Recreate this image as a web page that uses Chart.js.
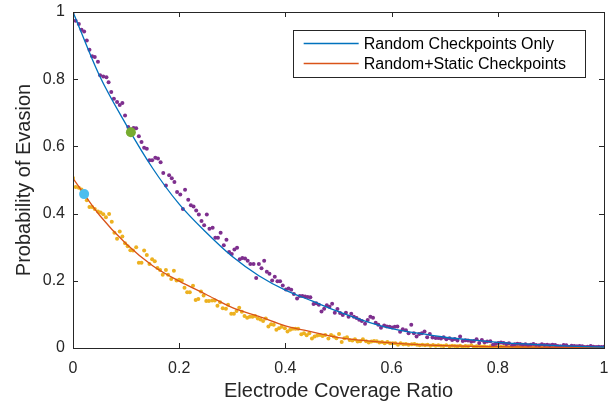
<!DOCTYPE html>
<html>
<head>
<meta charset="utf-8">
<script src="https://cdn.jsdelivr.net/npm/chart.js@4.4.1/dist/chart.umd.min.js"></script>
<style>
  html, body { margin: 0; padding: 0; background: #fff; }
</style>
</head>
<body>
<canvas id="chart" width="613" height="405"></canvas>
<script>
// tick positions
const xTicks = [0, 0.2, 0.4, 0.6, 0.8, 1];
const yTicks = [0, 0.2, 0.4, 0.6, 0.8, 1];

const seriesNames = ["Random Checkpoints Only", "Random+Static Checkpoints"];

// fitted curves, every 0.05
const fitX = [0, 0.05, 0.1, 0.15, 0.2, 0.25, 0.3, 0.35, 0.4, 0.45, 0.5,
  0.55, 0.6, 0.65, 0.7, 0.75, 0.8, 0.85, 0.9, 0.95, 1];
const randomFit = [1.000, 0.810, 0.665, 0.535, 0.428, 0.345, 0.272, 0.215, 0.172, 0.140, 0.108,
  0.080, 0.058, 0.044, 0.032, 0.024, 0.017, 0.012, 0.008, 0.005, 0.003];
const staticFit = [0.505, 0.395, 0.310, 0.245, 0.199, 0.160, 0.120, 0.094, 0.066, 0.048, 0.031,
  0.022, 0.015, 0.010, 0.007, 0.005, 0.004, 0.003, 0.002, 0.0015, 0.001];

// simulated points (x, y)
const randomPts = [
  [0,1.000],[0.005,0.974],[0.011,0.964],[0.016,0.947],[0.021,0.942],[0.026,0.915],[0.031,0.888],
  [0.036,0.868],[0.041,0.866],[0.047,0.852],[0.051,0.812],[0.057,0.808],[0.063,0.806],[0.067,0.791],
  [0.072,0.762],[0.077,0.742],[0.083,0.732],[0.088,0.723],[0.093,0.729],[0.098,0.692],[0.104,0.658],
  [0.109,0.650],[0.114,0.655],[0.119,0.654],[0.124,0.630],[0.129,0.613],[0.134,0.596],[0.139,0.593],
  [0.144,0.559],[0.149,0.559],[0.155,0.566],[0.160,0.564],[0.165,0.553],[0.170,0.521],[0.175,0.484],
  [0.181,0.514],[0.186,0.505],[0.191,0.494],[0.196,0.464],[0.202,0.457],[0.207,0.414],[0.211,0.471],
  [0.217,0.441],[0.222,0.425],[0.227,0.421],[0.232,0.409],[0.237,0.397],[0.242,0.378],[0.247,0.365],
  [0.252,0.397],[0.257,0.355],[0.263,0.358],[0.268,0.328],[0.273,0.328],[0.278,0.343],[0.284,0.306],
  [0.289,0.322],[0.294,0.286],[0.299,0.280],[0.304,0.293],[0.309,0.298],[0.314,0.264],[0.319,0.268],
  [0.324,0.266],[0.329,0.260],[0.334,0.250],[0.340,0.250],[0.345,0.208],[0.350,0.250],[0.355,0.237],
  [0.360,0.260],[0.365,0.227],[0.370,0.221],[0.375,0.201],[0.380,0.212],[0.385,0.199],[0.390,0.199],
  [0.395,0.186],[0.401,0.174],[0.406,0.177],[0.411,0.173],[0.416,0.161],[0.422,0.147],[0.427,0.155],
  [0.432,0.155],[0.437,0.153],[0.442,0.152],[0.447,0.151],[0.453,0.131],[0.458,0.133],[0.463,0.129],
  [0.468,0.109],[0.473,0.117],[0.478,0.127],[0.483,0.123],[0.488,0.132],[0.493,0.105],[0.498,0.116],
  [0.503,0.104],[0.508,0.098],[0.514,0.105],[0.519,0.093],[0.524,0.102],[0.529,0.093],[0.534,0.089],
  [0.539,0.084],[0.544,0.080],[0.550,0.072],[0.555,0.083],[0.560,0.093],[0.565,0.090],[0.570,0.075],
  [0.575,0.069],[0.580,0.060],[0.586,0.067],[0.591,0.064],[0.596,0.063],[0.601,0.061],[0.606,0.063],
  [0.611,0.064],[0.616,0.048],[0.621,0.056],[0.627,0.053],[0.632,0.044],[0.637,0.069],[0.642,0.044],
  [0.647,0.034],[0.652,0.042],[0.657,0.044],[0.662,0.049],[0.667,0.032],[0.672,0.042],[0.677,0.031],
  [0.683,0.030],[0.688,0.030],[0.693,0.028],[0.698,0.032],[0.703,0.026],[0.709,0.029],[0.714,0.024],
  [0.719,0.027],[0.724,0.022],[0.729,0.034],[0.734,0.021],[0.739,0.023],[0.744,0.022],[0.750,0.019],
  [0.755,0.021],[0.760,0.026],[0.765,0.015],[0.770,0.024],[0.775,0.017],[0.780,0.019],[0.786,0.020],
  [0.791,0.010],[0.796,0.013],[0.801,0.015],[0.806,0.016],[0.811,0.015],[0.816,0.012],[0.821,0.014],
  [0.827,0.008],[0.832,0.011],[0.837,0.013],[0.842,0.012],[0.847,0.010],[0.852,0.011],[0.857,0.008],
  [0.862,0.010],[0.867,0.012],[0.872,0.009],[0.878,0.008],[0.883,0.011],[0.888,0.009],[0.893,0.010],
  [0.898,0.008],[0.903,0.010],[0.908,0.009],[0.913,0.006],[0.918,0.005],[0.924,0.009],[0.929,0.008],
  [0.934,0.004],[0.939,0.007],[0.944,0.006],[0.949,0.005],[0.954,0.006],[0.959,0.005],[0.964,0.003],
  [0.969,0.004],[0.975,0.006],[0.980,0.004],[0.985,0.003],[0.990,0.004],[0.995,0.003],[1.000,0.004]
];

const staticPts = [
  [0,0.506],[0.005,0.479],[0.011,0.477],[0.016,0.472],[0.021,0.460],[0.026,0.440],[0.031,0.420],
  [0.036,0.420],[0.041,0.414],[0.047,0.406],[0.052,0.403],[0.057,0.398],[0.062,0.389],[0.068,0.399],
  [0.073,0.376],[0.078,0.343],[0.083,0.325],[0.088,0.347],[0.093,0.332],[0.098,0.312],[0.103,0.303],
  [0.108,0.291],[0.113,0.290],[0.119,0.300],[0.124,0.254],[0.129,0.254],[0.134,0.290],[0.139,0.277],
  [0.144,0.250],[0.149,0.264],[0.154,0.258],[0.159,0.238],[0.164,0.232],[0.169,0.218],[0.175,0.232],
  [0.179,0.218],[0.185,0.205],[0.190,0.230],[0.195,0.201],[0.200,0.203],[0.205,0.201],[0.210,0.179],
  [0.215,0.166],[0.220,0.166],[0.226,0.185],[0.231,0.143],[0.236,0.146],[0.241,0.168],[0.246,0.156],
  [0.251,0.140],[0.256,0.140],[0.262,0.141],[0.267,0.141],[0.272,0.126],[0.277,0.136],[0.282,0.118],
  [0.288,0.117],[0.292,0.129],[0.298,0.102],[0.303,0.102],[0.308,0.110],[0.313,0.120],[0.318,0.108],
  [0.323,0.095],[0.328,0.090],[0.333,0.093],[0.338,0.093],[0.343,0.095],[0.348,0.088],[0.353,0.085],
  [0.358,0.080],[0.363,0.088],[0.368,0.064],[0.373,0.071],[0.378,0.069],[0.383,0.054],[0.388,0.059],
  [0.393,0.063],[0.399,0.059],[0.404,0.049],[0.409,0.054],[0.414,0.057],[0.419,0.057],[0.424,0.057],
  [0.430,0.041],[0.435,0.044],[0.440,0.038],[0.445,0.044],[0.450,0.028],[0.455,0.034],[0.460,0.037],
  [0.465,0.039],[0.470,0.036],[0.475,0.039],[0.481,0.028],[0.486,0.039],[0.491,0.034],[0.496,0.029],
  [0.501,0.042],[0.506,0.018],[0.511,0.029],[0.516,0.032],[0.521,0.024],[0.526,0.022],[0.531,0.026],
  [0.536,0.019],[0.541,0.020],[0.546,0.026],[0.552,0.020],[0.557,0.016],[0.562,0.019],[0.567,0.021],
  [0.572,0.020],[0.577,0.016],[0.582,0.018],[0.587,0.014],[0.592,0.018],[0.597,0.014],[0.602,0.014],
  [0.607,0.014],[0.612,0.010],[0.617,0.014],[0.622,0.011],[0.627,0.012],[0.632,0.010],[0.638,0.011],
  [0.643,0.012],[0.648,0.010],[0.653,0.008],[0.658,0.010],[0.663,0.008],[0.668,0.010],[0.673,0.007],
  [0.678,0.009],[0.683,0.007],[0.688,0.008],[0.693,0.007],[0.698,0.006],[0.703,0.008],[0.709,0.005],
  [0.714,0.007],[0.719,0.006],[0.724,0.005],[0.729,0.007],[0.734,0.004],[0.739,0.006],[0.744,0.005],
  [0.750,0.008],[0.755,0.004],[0.760,0.005],[0.765,0.006],[0.770,0.004],[0.775,0.005],[0.780,0.003],
  [0.786,0.005],[0.791,0.004],[0.796,0.006],[0.801,0.003],[0.806,0.004],[0.811,0.003],[0.816,0.005],
  [0.821,0.003],[0.827,0.004],[0.832,0.002],[0.837,0.004],[0.842,0.003],[0.847,0.003],[0.852,0.002],
  [0.857,0.004],[0.862,0.003],[0.867,0.002],[0.872,0.003],[0.878,0.002],[0.883,0.003],[0.888,0.002],
  [0.893,0.002],[0.898,0.003],[0.903,0.001],[0.908,0.002],[0.913,0.002],[0.918,0.001],[0.924,0.002],
  [0.929,0.001],[0.934,0.002],[0.939,0.001],[0.944,0.001],[0.949,0.002],[0.954,0.001],[0.959,0.001],
  [0.964,0.001],[0.969,0.001],[0.975,0.000],[0.980,0.001],[0.985,0.001],[0.990,0.000],[0.995,0.001],
  [1.000,0.000]
];

// the two highlighted points
const randomMark = [0.109, 0.642];
const staticMark = [0.021, 0.458];

const axisColor = "#262626";
const fontFam = "'Liberation Sans', Arial, Helvetica, sans-serif";

const toXY = arr => arr.map(p => ({ x: p[0], y: p[1] }));
const fitXY = ys => fitX.map((x, i) => ({ x: x, y: ys[i] }));
const tickText = v => String(Math.round(v * 10) / 10);

// box round the axes + inward ticks, like matlab
const boxTicks = {
  id: "boxTicks",
  afterDatasetsDraw(chart) {
    const { ctx, chartArea: a, scales } = chart;
    const len = 5;
    ctx.save();
    ctx.strokeStyle = axisColor;
    ctx.lineWidth = 1;
    ctx.beginPath();
    xTicks.forEach(v => {
      const px = Math.round(scales.x.getPixelForValue(v)) + 0.5;
      ctx.moveTo(px, a.bottom); ctx.lineTo(px, a.bottom - len);
      ctx.moveTo(px, a.top); ctx.lineTo(px, a.top + len);
    });
    yTicks.forEach(v => {
      const py = Math.round(scales.y.getPixelForValue(v)) + 0.5;
      ctx.moveTo(a.left, py); ctx.lineTo(a.left + len, py);
      ctx.moveTo(a.right, py); ctx.lineTo(a.right - len, py);
    });
    ctx.stroke();
    ctx.strokeRect(Math.round(a.left) + 0.5, Math.round(a.top) + 0.5,
      Math.round(a.right - a.left), Math.round(a.bottom - a.top));
    ctx.restore();
  }
};

// legend drawn inside the axes, top right
const innerLegend = {
  id: "innerLegend",
  afterDraw(chart) {
    const { ctx, chartArea: a } = chart;
    const lines = chart.data.datasets.filter(d => d.inLegend);
    ctx.save();
    ctx.font = "16px " + fontFam;
    const tw = Math.max(...lines.map(d => ctx.measureText(d.label).width));
    const w = 11 + 55 + 5 + tw + 19;
    const h = 47;
    const right = a.right - 19;
    const top = a.top + 18;
    const left = right - w;
    ctx.fillStyle = "#fff";
    ctx.fillRect(left, top, w, h);
    ctx.strokeStyle = axisColor;
    ctx.lineWidth = 1;
    ctx.strokeRect(Math.round(left) + 0.5, Math.round(top) + 0.5, Math.round(w), h);
    lines.forEach((d, i) => {
      const y = top + 13.5 + i * 20;
      ctx.strokeStyle = d.borderColor;
      ctx.lineWidth = 1.3;
      ctx.beginPath();
      ctx.moveTo(left + 11, y); ctx.lineTo(left + 66, y);
      ctx.stroke();
      ctx.fillStyle = "#000";
      ctx.textBaseline = "middle";
      ctx.fillText(d.label, left + 71, y + 1);
    });
    ctx.restore();
  }
};

new Chart(document.getElementById("chart"), {
  type: "scatter",
  data: {
    datasets: [
      { label: "randomMark", data: toXY([randomMark]), backgroundColor: "#77AC30",
        pointRadius: 5, borderWidth: 0, order: -1 },
      { label: "staticMark", data: toXY([staticMark]), backgroundColor: "#4DBEEE",
        pointRadius: 5, borderWidth: 0, order: -1 },
      { label: seriesNames[0], data: fitXY(randomFit), showLine: true, inLegend: true,
        borderColor: "#0072BD", borderWidth: 1.3, pointRadius: 0,
        cubicInterpolationMode: "monotone", order: 0 },
      { label: seriesNames[1], data: fitXY(staticFit), showLine: true, inLegend: true,
        borderColor: "#D95319", borderWidth: 1.3, pointRadius: 0,
        cubicInterpolationMode: "monotone", order: 0 },
      { label: "randomPts", data: toXY(randomPts), backgroundColor: "#7E2F8E",
        pointRadius: 2, borderWidth: 0, order: 1 },
      { label: "staticPts", data: toXY(staticPts), backgroundColor: "#EDB120",
        pointRadius: 2, borderWidth: 0, order: 1 }
    ]
  },
  options: {
    responsive: false,
    devicePixelRatio: 1,
    animation: false,
    events: [],
    layout: { padding: { top: 12, right: 9, left: 0, bottom: 0 } },
    plugins: { legend: { display: false }, tooltip: { enabled: false } },
    scales: {
      x: {
        type: "linear", min: 0, max: 1,
        afterBuildTicks: s => { s.ticks = xTicks.map(v => ({ value: v })); },
        afterFit: s => { s.height = 57; s.paddingLeft = 0; s.paddingRight = 0; },
        grid: { display: false, drawTicks: false },
        border: { display: false },
        ticks: { color: axisColor, font: { size: 16, family: fontFam }, padding: 11, maxRotation: 0,
          callback: tickText },
        title: { display: true, text: "Electrode Coverage Ratio", color: axisColor,
          font: { size: 20, family: fontFam }, padding: { top: 0, bottom: 2 } }
      },
      y: {
        type: "linear", min: 0, max: 1,
        afterBuildTicks: s => { s.ticks = yTicks.map(v => ({ value: v })); },
        afterFit: s => { s.width = 73; s.paddingTop = 0; s.paddingBottom = 0; },
        grid: { display: false, drawTicks: false },
        border: { display: false },
        ticks: { color: axisColor, font: { size: 16, family: fontFam }, padding: 8,
          callback: tickText },
        title: { display: true, text: "Probability of Evasion", color: axisColor,
          font: { size: 20, family: fontFam }, padding: { top: 12, bottom: 0 } }
      }
    }
  },
  plugins: [boxTicks, innerLegend]
});
</script>
</body>
</html>
